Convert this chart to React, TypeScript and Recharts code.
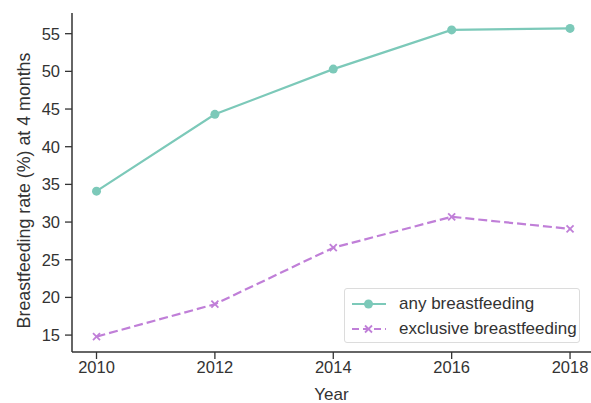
import { LineChart, Line, XAxis, YAxis } from "recharts"

const years = [2010, 2012, 2014, 2016, 2018]
const anyRate = [34.1, 44.3, 50.3, 55.5, 55.7]
const exclusiveRate = [14.8, 19.1, 26.6, 30.7, 29.1]
const yTicks = [15, 20, 25, 30, 35, 40, 45, 50, 55]

const data = years.map((year, i) => ({
  year,
  any: anyRate[i],
  exclusive: exclusiveRate[i],
}))

const TEAL = "#7cc9b9"
const PURPLE = "#c07fd8"
const INK = "#333333"
const FONT = "'Liberation Sans', Arial, sans-serif"

function CrossDot(props: any) {
  const { cx, cy } = props
  if (cx == null || cy == null) return null
  const s = 3.5
  return (
    <g stroke={PURPLE} strokeWidth={1.8}>
      <line x1={cx - s} y1={cy - s} x2={cx + s} y2={cy + s} />
      <line x1={cx - s} y1={cy + s} x2={cx + s} y2={cy - s} />
    </g>
  )
}

function LegendBox() {
  const row = (label: string, color: string, dashed: boolean, cross: boolean) => (
    <div style={{ display: "flex", alignItems: "center", height: 25 }}>
      <svg width={36} height={12} style={{ marginRight: 12, flexShrink: 0 }}>
        <line x1={1} y1={6} x2={35} y2={6} stroke={color} strokeWidth={2} strokeDasharray={dashed ? "7 4" : undefined} />
        {cross ? (
          <g stroke={color} strokeWidth={1.8}>
            <line x1={14} y1={2.5} x2={21} y2={9.5} />
            <line x1={14} y1={9.5} x2={21} y2={2.5} />
          </g>
        ) : (
          <circle cx={17.5} cy={6} r={4.5} fill={color} />
        )}
      </svg>
      <span style={{ fontSize: 17, color: INK, fontFamily: FONT, whiteSpace: "nowrap" }}>{label}</span>
    </div>
  )
  return (
    <div
      style={{
        position: "absolute",
        left: 344,
        top: 288,
        width: 236,
        height: 55,
        boxSizing: "border-box",
        border: "1px solid #dcdcdc",
        borderRadius: 3,
        padding: "2px 0 0 6px",
        background: "#fff",
      }}
    >
      {row("any breastfeeding", TEAL, false, false)}
      {row("exclusive breastfeeding", PURPLE, true, true)}
    </div>
  )
}

export default function App() {
  return (
    <div style={{ position: "fixed", left: 0, top: 0, width: 591, height: 403, overflow: "hidden", background: "#fff" }}>
      <LineChart width={591} height={403} data={data} margin={{ top: 13, right: 0, left: 0, bottom: 0 }}>
        <XAxis
          dataKey="year"
          type="number"
          domain={[2009.586, 2018.354]}
          ticks={years}
          allowDataOverflow
          height={51}
          tickSize={7}
          tickMargin={2}
          axisLine={{ stroke: INK, strokeWidth: 1.5 }}
          tickLine={{ stroke: INK, strokeWidth: 1.3 }}
          tick={{ fill: INK, fontSize: 16.5, fontFamily: FONT }}
          label={{ value: "Year", position: "insideBottom", offset: 3, fill: INK, fontSize: 17, fontFamily: FONT }}
        />
        <YAxis
          type="number"
          domain={[12.755, 57.745]}
          ticks={yTicks}
          allowDataOverflow
          width={72}
          tickSize={7}
          tickMargin={5}
          axisLine={{ stroke: INK, strokeWidth: 1.5 }}
          tickLine={{ stroke: INK, strokeWidth: 1.3 }}
          tick={{ fill: INK, fontSize: 16.5, fontFamily: FONT }}
          label={{
            value: "Breastfeeding rate (%) at 4 months",
            angle: -90,
            position: "insideLeft",
            offset: 24,
            dy: 8,
            style: { textAnchor: "middle" },
            fill: INK,
            fontSize: 17.8,
            fontFamily: FONT,
          }}
        />
        <Line
          dataKey="any"
          stroke={TEAL}
          strokeWidth={2.2}
          dot={{ r: 4.5, fill: TEAL, stroke: TEAL, strokeWidth: 0 }}
          activeDot={false}
          isAnimationActive={false}
        />
        <Line
          dataKey="exclusive"
          stroke={PURPLE}
          strokeWidth={2.2}
          strokeDasharray="9 4"
          dot={<CrossDot />}
          activeDot={false}
          isAnimationActive={false}
        />
      </LineChart>
      <LegendBox />
    </div>
  )
}
